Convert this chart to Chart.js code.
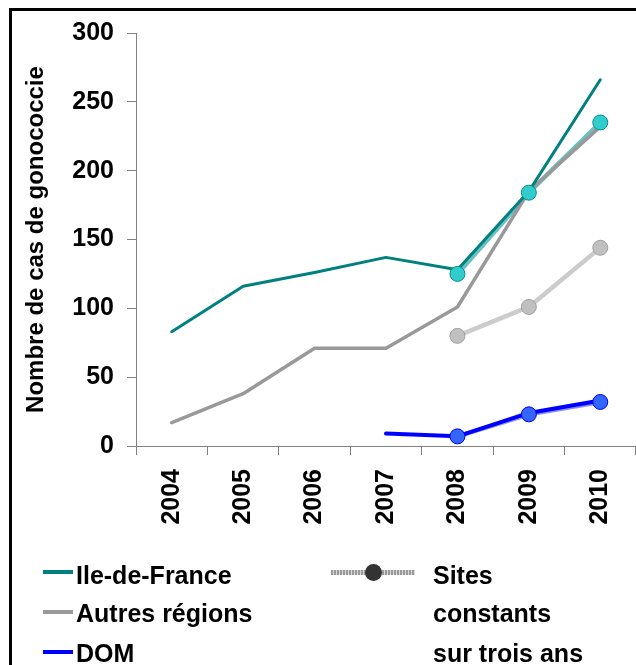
<!DOCTYPE html>
<html>
<head>
<meta charset="utf-8">
<script src="https://cdn.jsdelivr.net/npm/chart.js@4.4.0/dist/chart.umd.min.js"></script>
<style>
  html, body { margin: 0; padding: 0; background: #fff; }
  body { width: 636px; height: 665px; position: relative; overflow: hidden; font-family: "Liberation Sans", Arial, sans-serif; }
  #frame { position: absolute; left: 9px; top: 8px; width: 700px; height: 700px; border-left: 3px solid #000; border-top: 3px solid #000; box-sizing: border-box; }
  canvas { position: absolute; left: 0; top: 0; }
  .lg { position: absolute; font-weight: bold; font-size: 25px; color: #000; white-space: nowrap; line-height: normal; }
  .sw { position: absolute; height: 4px; }
</style>
</head>
<body>
<div id="frame"></div>
<canvas id="c" width="636" height="665"></canvas>

<div class="sw" style="left:43px;top:570px;width:30px;background:#008080"></div>
<div class="lg" style="left:76px;top:561px">Ile-de-France</div>
<div class="sw" style="left:43px;top:610px;width:30px;background:#999999"></div>
<div class="lg" style="left:76px;top:599px">Autres régions</div>
<div class="sw" style="left:43px;top:650px;width:30px;background:#0000ff"></div>
<div class="lg" style="left:76px;top:639px">DOM</div>

<div class="sw" style="left:331px;top:570px;width:84px;height:5px;background:repeating-linear-gradient(90deg,#9a9a9a 0 2px,#d8d8d8 2px 3px)"></div>
<div style="position:absolute;left:365px;top:564px;width:17px;height:17px;border-radius:50%;background:#333"></div>
<div class="lg" style="left:433px;top:561px">Sites</div>
<div class="lg" style="left:433px;top:599px">constants</div>
<div class="lg" style="left:433px;top:639px">sur trois ans</div>

<script>
const years = ['2004', '2005', '2006', '2007', '2008', '2009', '2010'];
const yTicks = [0, 50, 100, 150, 200, 250, 300];
const ileDeFrance = [83, 116, 126, 137, 128, 185, 266];
const autresRegions = [17, 38, 71, 71, 101, 185, 232];
const dom = [null, null, null, 9, 7, 24, 33];
const constIdf = [null, null, null, null, 125, 184, 235];
const constAutres = [null, null, null, null, 80, 101, 144];
const constDom = [null, null, null, null, 7, 23, 32];

const FONT = "'Liberation Sans', Arial, sans-serif";

function lineDs(label, data, color, width, order) {
  return { label, data, borderColor: color, borderWidth: width, pointRadius: 0, pointHoverRadius: 0,
           fill: false, tension: 0, spanGaps: false, order, borderCapStyle: 'round', borderJoinStyle: 'round' };
}
function pointDs(label, data, fill, border) {
  return { label, data, showLine: false, pointRadius: 7.5, pointHoverRadius: 7.5, pointBackgroundColor: fill,
           pointBorderColor: border, pointBorderWidth: 1, backgroundColor: fill, borderColor: border, order: 0 };
}

new Chart(document.getElementById('c'), {
  type: 'line',
  data: {
    labels: years,
    datasets: [
      lineDs('Ile-de-France', ileDeFrance, '#008080', 3, 2),
      lineDs('Autres régions', autresRegions, '#999999', 3.5, 3),
      lineDs('DOM', dom, '#0000ff', 4, 2),
      lineDs('Sites constants IdF', constIdf, 'rgba(80,180,180,0.85)', 4.5, 5),
      lineDs('Sites constants autres', constAutres, '#cccccc', 4.5, 5),
      lineDs('Sites constants DOM', constDom, 'rgba(110,110,255,0.8)', 4.5, 5),
      pointDs('p1', constIdf, '#33cccc', '#008f8f'),
      pointDs('p2', constAutres, '#c0c0c0', '#a0a0a0'),
      pointDs('p3', constDom, '#3366ff', '#0000ee')
    ]
  },
  options: {
    responsive: false,
    animation: false,
    devicePixelRatio: 1,
    layout: { autoPadding: false, padding: { left: 0, right: 0, top: 33, bottom: 119 } },
    plugins: { legend: { display: false }, tooltip: { enabled: false } },
    scales: {
      x: {
        type: 'category',
        offset: true,
        grid: { display: true, drawOnChartArea: false, drawTicks: true, tickLength: 9, color: '#808080', offset: true },
        border: { display: true, color: '#808080', width: 1 },
        ticks: { minRotation: 90, maxRotation: 90, padding: 14, color: '#000', font: { family: FONT, size: 25, weight: 'bold' } },
        afterFit: (s) => { s.height = 100; s.paddingRight = 0; s.paddingLeft = 0; }
      },
      y: {
        min: 0, max: 300,
        afterBuildTicks: (s) => { s.ticks = yTicks.map(v => ({ value: v })); },
        grid: { display: true, drawOnChartArea: false, drawTicks: true, tickLength: 9, color: '#808080' },
        border: { display: true, color: '#808080', width: 1 },
        ticks: { padding: 13, color: '#000', font: { family: FONT, size: 25, weight: 'bold' } },
        title: { display: true, text: 'Nombre de cas de gonococcie', color: '#000',
                 font: { family: FONT, size: 24, weight: 'bold' }, padding: { top: 22, bottom: 0 } },
        afterFit: (s) => { s.width = 136; s.paddingTop = 0; s.paddingBottom = 0; }
      }
    }
  }
});
</script>
</body>
</html>
